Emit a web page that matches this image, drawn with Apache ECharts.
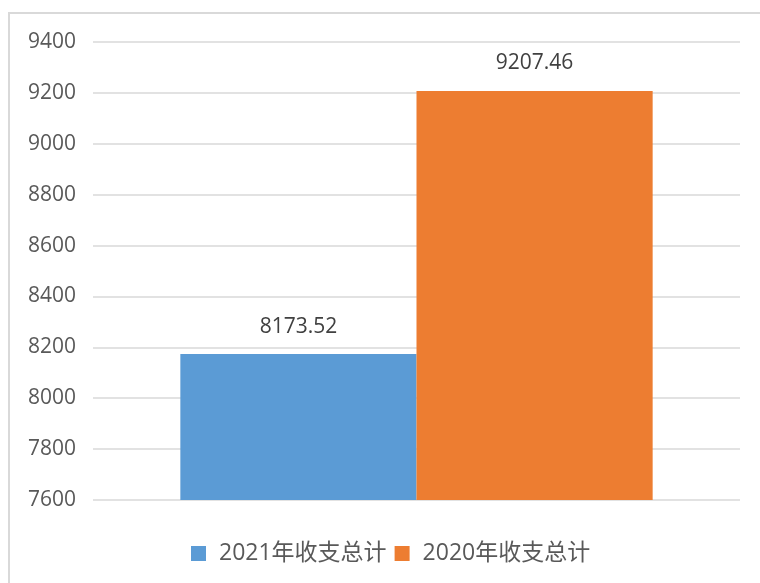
<!DOCTYPE html>
<html>
<head>
<meta charset="utf-8">
<script src="https://cdn.jsdelivr.net/npm/echarts@6/dist/echarts.min.js"></script>
<style>
  html, body { margin: 0; padding: 0; background: #fff; }
  #main { width: 760px; height: 583px; }
</style>
</head>
<body>
<div id="main"></div>
<script>
const categories = ['收支总计'];
const seriesNames = ['2021年收支总计', '2020年收支总计'];
const values2021 = [8173.52];
const values2020 = [9207.46];
const yTicks = [7600, 9400, 200];

const chart = echarts.init(document.getElementById('main'));
const fontFam = '"Open Sans", "Noto Sans CJK SC", sans-serif';

const option = {
  animation: false,
  textStyle: { fontFamily: fontFam },
  graphic: [{
    type: 'rect',
    shape: { x: 9, y: 13, width: 800, height: 600 },
    style: { fill: 'none', stroke: '#d9d9d9', lineWidth: 2 },
    silent: true
  }],
  grid: { left: 93, right: 20, top: 42, bottom: 83 },
  legend: {
    top: 537,
    left: 186,
    itemWidth: 15,
    itemHeight: 15,
    itemGap: 8,
    icon: 'rect',
    textStyle: { fontSize: 23, color: '#595959', fontFamily: fontFam, padding: [0, 0, 0, 8] },
    data: seriesNames
  },
  xAxis: {
    type: 'category',
    data: categories,
    axisLine: { show: false },
    axisTick: { show: false },
    axisLabel: { show: false }
  },
  yAxis: {
    type: 'value',
    min: yTicks[0],
    max: yTicks[1],
    interval: yTicks[2],
    axisLine: { show: false },
    axisTick: { show: false },
    axisLabel: { fontSize: 21, color: '#595959', margin: 17, fontFamily: fontFam,
      formatter: v => String(v) },
    splitLine: { lineStyle: { color: '#d9d9d9', width: 1.5 } }
  },
  series: [
    {
      name: seriesNames[0],
      type: 'bar',
      data: values2021,
      barGap: '0%',
      barCategoryGap: '27%',
      itemStyle: { color: '#5b9bd5' },
      label: { show: true, position: 'top', distance: 17, fontSize: 21, color: '#404040', fontFamily: fontFam,
        formatter: p => p.value.toFixed(2) }
    },
    {
      name: seriesNames[1],
      type: 'bar',
      data: values2020,
      barGap: '0%',
      barCategoryGap: '27%',
      itemStyle: { color: '#ed7d31' },
      label: { show: true, position: 'top', distance: 17, fontSize: 21, color: '#404040', fontFamily: fontFam,
        formatter: p => p.value.toFixed(2) }
    }
  ]
};

chart.setOption(option);
window.addEventListener('resize', function () { chart.resize(); });
</script>
</body>
</html>
